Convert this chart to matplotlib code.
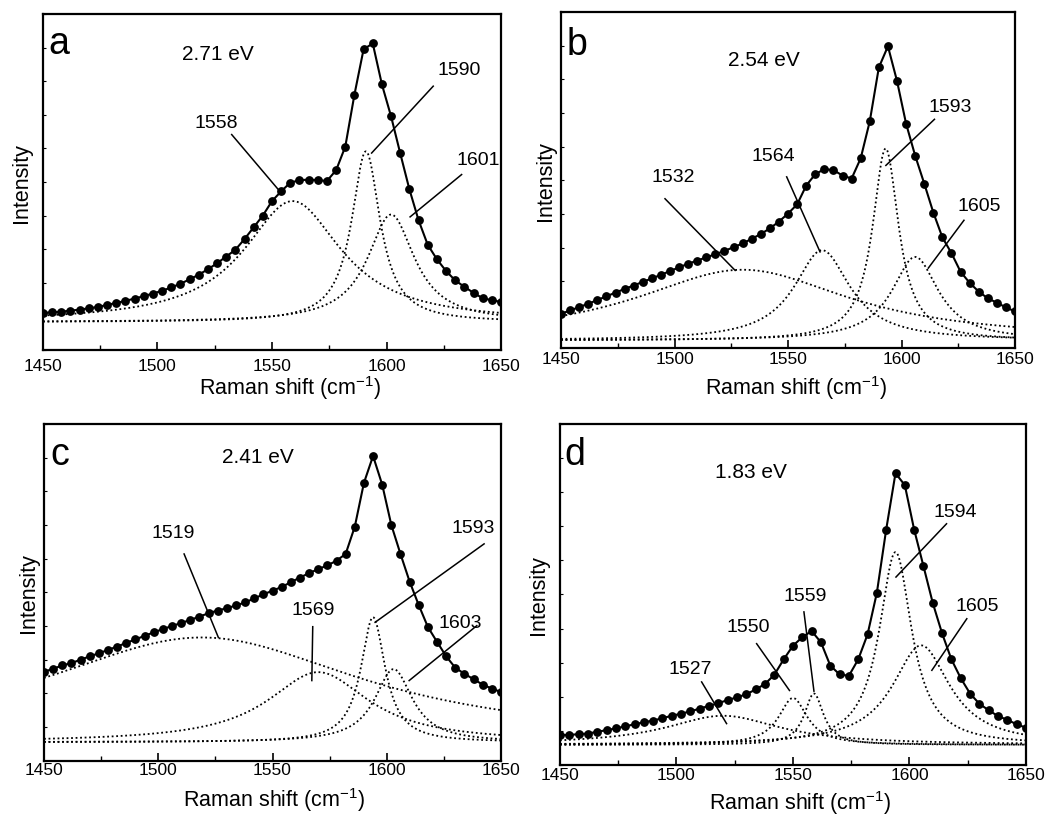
import numpy as np
import matplotlib
matplotlib.use('Agg')
import matplotlib.pyplot as plt
from matplotlib.ticker import MultipleLocator

plt.rcParams['font.family'] = ['Liberation Sans', 'DejaVu Sans']
plt.rcParams['mathtext.default'] = 'regular'

# Raman shift grid of the measured points (cm-1)
shift = np.arange(1450, 1651, 4)

int_a = [.110, .112, .114, .117, .120, .124, .128, .134, .140, .146, .153, .160, .168, .176, .186, .197, .210,
         .224, .240, .258, .278, .298, .330, .365, .400, .443, .472, .498, .505, .507, .505, .503, .535, .605,
         .760, .895, .912, .790, .695, .585, .478, .386, .313, .270, .235, .207, .188, .170, .154, .148, .143]
int_b = [.103, .113, .123, .133, .144, .155, .166, .177, .187, .198, .208, .219, .230, .241, .252, .261, .271,
         .280, .290, .301, .312, .326, .340, .357, .377, .401, .428, .484, .518, .533, .530, .514, .505, .565,
         .675, .835, .898, .795, .668, .573, .490, .404, .330, .283, .228, .195, .169, .149, .136, .122, .110]
int_c = [.264, .273, .283, .290, .300, .310, .319, .329, .339, .350, .360, .371, .381, .391, .400, .409, .418,
         .428, .438, .446, .453, .461, .470, .482, .494, .505, .516, .530, .544, .557, .569, .580, .594, .614,
         .695, .825, .905, .820, .700, .614, .532, .462, .397, .353, .310, .276, .258, .242, .226, .214, .204]
int_d = [.088, .089, .091, .093, .098, .103, .108, .114, .120, .126, .131, .138, .145, .151, .158, .166, .174,
         .182, .191, .199, .208, .222, .238, .265, .310, .350, .375, .393, .360, .292, .266, .262, .310, .383,
         .505, .690, .855, .820, .690, .583, .475, .386, .310, .255, .210, .180, .161, .144, .133, .120, .110]

# fitted Lorentzian components: centre, half width, height, common offset
pos_a = [1559, 1591, 1602]
hw_a = [26, 7.6, 12.5]
amp_a = [.36, .508, .32]
base_a = .083

pos_b = [1530, 1565, 1593, 1606]
hw_b = [58, 15, 7, 12.5]
amp_b = [.21, .268, .57, .248]
base_b = .024

pos_c = [1519, 1570, 1594, 1603]
hw_c = [87, 27, 6.5, 10]
amp_c = [.311, .208, .371, .217]
base_c = .055

pos_d = [1520, 1550, 1559, 1594, 1605]
hw_d = [30, 7.5, 5, 8.5, 15]
amp_d = [.085, .137, .15, .564, .291]
base_d = .06

# peak labels
peaks_a = ['1558', '1590', '1601']
peaks_b = ['1532', '1564', '1593', '1605']
peaks_c = ['1519', '1569', '1593', '1603']
peaks_d = ['1527', '1550', '1559', '1594', '1605']

energy = ['2.71 eV', '2.54 eV', '2.41 eV', '1.83 eV']
letters = ['a', 'b', 'c', 'd']


def lorentz(x, x0, g, h):
    return h / (1 + ((x - x0) / g) ** 2)


# layout: axes rect, label text pos, leader line (x0, y0, x1, y1)
panels = [
    dict(rect=[.0409, .572, .4358, .4098], y=int_a, pos=pos_a, hw=hw_a, amp=amp_a, base=base_a,
         labels=peaks_a, eV=(1526.2, .866), tpad=5.5, xlab=(.54, -.068), ylab=(-.024, .5),
         notes=[((1525.8, .676), (1532.4, .641, 1552.8, .477)),
                ((1631.8, .834), (1620.4, .785, 1593.5, .586)),
                ((1640.1, .566), (1632.8, .522, 1610.3, .396))],
         letter=(1452.3, .884)),
    dict(rect=[.5338, .5738, .432, .4104], y=int_b, pos=pos_b, hw=hw_b, amp=amp_b, base=base_b,
         labels=peaks_b, eV=(1539.5, .842), tpad=2, xlab=(.517, -.073), ylab=(-.012, .5),
         notes=[((1499.5, .51), (1495.8, .445, 1526.7, .232)),
                ((1543.5, .573), (1549.4, .51, 1564.1, .287)),
                ((1621.4, .718), (1614.5, .681, 1593.1, .544)),
                ((1634.1, .425), (1627.5, .381, 1611.8, .239))],
         letter=(1452.5, .876)),
    dict(rect=[.0419, .0711, .4348, .4106], y=int_c, pos=pos_c, hw=hw_c, amp=amp_c, base=base_c,
         labels=peaks_c, eV=(1543.4, .886), tpad=1, xlab=(.503, -.072), ylab=(-.011, .5),
         notes=[((1506.6, .678), (1511.3, .614, 1526.3, .366)),
                ((1567.9, .45), (1567.6, .398, 1567.2, .238)),
                ((1637.9, .693), (1642.6, .644, 1594.9, .411)),
                ((1632.1, .411), (1639.4, .401, 1609.8, .238))],
         letter=(1452.6, .881)),
    dict(rect=[.5328, .0655, .4434, .4166], y=int_d, pos=pos_d, hw=hw_d, amp=amp_d, base=base_d,
         labels=peaks_d, eV=(1531.9, .844), tpad=1, xlab=(.516, -.066), ylab=(-.024, .5),
         notes=[((1505.8, .283), (1510.8, .244, 1521.5, .122)),
                ((1530.8, .405), (1534.4, .356, 1548.5, .219)),
                ((1555.2, .498), (1554.7, .449, 1559.0, .217)),
                ((1619.5, .742), (1615.9, .707, 1594.2, .551)),
                ((1628.9, .468), (1624.6, .429, 1609.6, .278))],
         letter=(1452.1, .883)),
]

fig = plt.figure(figsize=(10.51, 8.2), dpi=100)
xf = np.linspace(1450, 1650, 801)

for i, p in enumerate(panels):
    ax = fig.add_axes(p['rect'])

    # fit components (dotted)
    for x0, g, h in zip(p['pos'], p['hw'], p['amp']):
        ax.plot(xf, p['base'] + lorentz(xf, x0, g, h), color='black', lw=1.3, ls=(0, (1, 1.5)))

    # measured spectrum
    ax.plot(shift, p['y'], color='black', lw=1.5)
    ax.plot(shift, p['y'], 'o', color='black', ms=5.3)

    # peak labels with leader lines
    for lab, (txy, seg) in zip(p['labels'], p['notes']):
        ax.text(txy[0], txy[1], lab, fontsize=14, ha='center', va='center')
        ax.plot([seg[0], seg[2]], [seg[1], seg[3]], color='black', lw=1.1)

    ax.text(p['eV'][0], p['eV'][1], energy[i], fontsize=15, ha='center', va='baseline')
    ax.text(p['letter'][0], p['letter'][1], letters[i], fontsize=27, ha='left', va='baseline')

    ax.set_xlim(1450, 1650)
    ax.set_ylim(0, 1)
    ax.xaxis.set_major_locator(MultipleLocator(50))
    ax.xaxis.set_minor_locator(MultipleLocator(25))
    ax.yaxis.set_major_locator(MultipleLocator(0.1))
    ax.tick_params(axis='x', which='major', direction='in', length=6, width=1.2,
                   labelsize=12.5, pad=p['tpad'])
    ax.tick_params(axis='x', which='minor', direction='in', length=3.5, width=1)
    ax.tick_params(axis='y', which='major', direction='in', length=2.5, width=0.8, labelleft=False)
    for s in ax.spines.values():
        s.set_linewidth(1.6)

    ax.set_xlabel('Raman shift (cm$^{-1}$)', fontsize=15.5, va='top')
    ax.xaxis.set_label_coords(*p['xlab'])
    ax.set_ylabel('Intensity', fontsize=15.5)
    ax.yaxis.set_label_coords(*p['ylab'])

fig.savefig('out.png', dpi=100)
